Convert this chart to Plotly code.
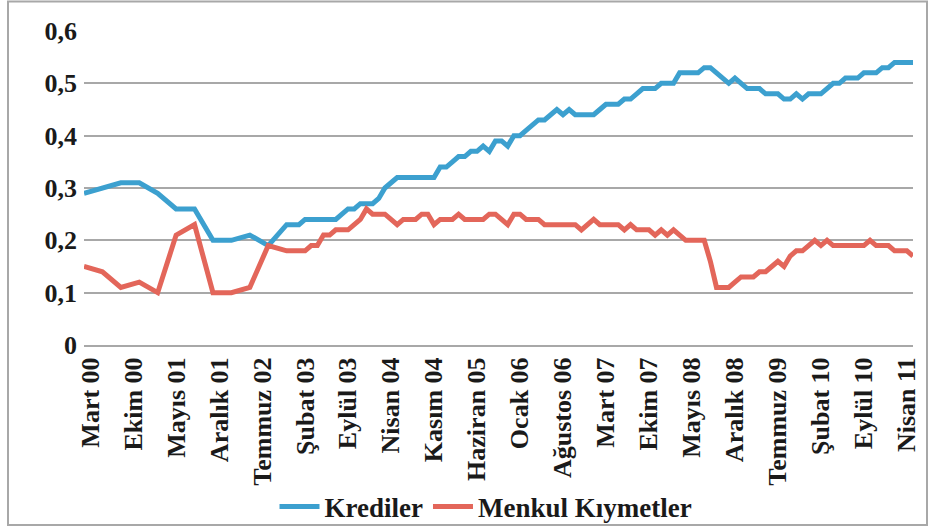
import plotly.graph_objects as go

# ---------------- data ----------------
month_names = ["Ocak", "Şubat", "Mart", "Nisan", "Mayıs", "Haziran",
               "Temmuz", "Ağustos", "Eylül", "Ekim", "Kasım", "Aralık"]
start_year, start_month, n_months = 2000, 2, 136  # Şubat 00 ... Mayıs 11
categories = []
for k in range(n_months):
    m = start_month - 1 + k
    categories.append(f"{month_names[m % 12]} {(start_year + m // 12) % 100:02d}")

tick_labels = ["Mart 00", "Ekim 00", "Mayıs 01", "Aralık 01", "Temmuz 02",
               "Şubat 03", "Eylül 03", "Nisan 04", "Kasım 04", "Haziran 05",
               "Ocak 06", "Ağustos 06", "Mart 07", "Ekim 07", "Mayıs 08",
               "Aralık 08", "Temmuz 09", "Şubat 10", "Eylül 10", "Nisan 11"]

krediler = [
    0.29, None, None, 0.30, None, None, 0.31, None, None, 0.31,
    None, None, 0.29, None, None, 0.26, None, None, 0.26, None,
    None, 0.20, None, None, 0.20, None, None, 0.21, None, None,
    0.19, None, None, 0.23, 0.23, 0.23, 0.24, 0.24, 0.24, 0.24,
    0.24, 0.24, 0.25, 0.26, 0.26, 0.27, 0.27, 0.27, 0.28, 0.30,
    0.31, 0.32, 0.32, 0.32, 0.32, 0.32, 0.32, 0.32, 0.34, 0.34,
    0.35, 0.36, 0.36, 0.37, 0.37, 0.38, 0.37, 0.39, 0.39, 0.38,
    0.40, 0.40, 0.41, 0.42, 0.43, 0.43, 0.44, 0.45, 0.44, 0.45,
    0.44, 0.44, 0.44, 0.44, 0.45, 0.46, 0.46, 0.46, 0.47, 0.47,
    0.48, 0.49, 0.49, 0.49, 0.50, 0.50, 0.50, 0.52, 0.52, 0.52,
    0.52, 0.53, 0.53, 0.52, 0.51, 0.50, 0.51, 0.50, 0.49, 0.49,
    0.49, 0.48, 0.48, 0.48, 0.47, 0.47, 0.48, 0.47, 0.48, 0.48,
    0.48, 0.49, 0.50, 0.50, 0.51, 0.51, 0.51, 0.52, 0.52, 0.52,
    0.53, 0.53, 0.54, 0.54, 0.54, 0.54]

menkul_kiymetler = [
    0.15, None, None, 0.14, None, None, 0.11, None, None, 0.12,
    None, None, 0.10, None, None, 0.21, None, None, 0.23, None,
    None, 0.10, None, None, 0.10, None, None, 0.11, None, None,
    0.19, None, None, 0.18, 0.18, 0.18, 0.18, 0.19, 0.19, 0.21,
    0.21, 0.22, 0.22, 0.22, 0.23, 0.24, 0.26, 0.25, 0.25, 0.25,
    0.24, 0.23, 0.24, 0.24, 0.24, 0.25, 0.25, 0.23, 0.24, 0.24,
    0.24, 0.25, 0.24, 0.24, 0.24, 0.24, 0.25, 0.25, 0.24, 0.23,
    0.25, 0.25, 0.24, 0.24, 0.24, 0.23, 0.23, 0.23, 0.23, 0.23,
    0.23, 0.22, 0.23, 0.24, 0.23, 0.23, 0.23, 0.23, 0.22, 0.23,
    0.22, 0.22, 0.22, 0.21, 0.22, 0.21, 0.22, 0.21, 0.20, 0.20,
    0.20, 0.20, 0.16, 0.11, 0.11, 0.11, 0.12, 0.13, 0.13, 0.13,
    0.14, 0.14, 0.15, 0.16, 0.15, 0.17, 0.18, 0.18, 0.19, 0.20,
    0.19, 0.20, 0.19, 0.19, 0.19, 0.19, 0.19, 0.19, 0.20, 0.19,
    0.19, 0.19, 0.18, 0.18, 0.18, 0.17]

y_tick_values = [0, 0.1, 0.2, 0.3, 0.4, 0.5, 0.6]
y_tick_labels = ["0", "0,1", "0,2", "0,3", "0,4", "0,5", "0,6"]

# ---------------- figure ----------------
W, H = 933, 529
L, R, T, B = 84, 20, 31, 184
pw, ph = W - L - R, H - T - B

FONT = "Liberation Serif"
BLUE = "#3ca0cf"
RED = "#e3665a"
GRID = "#a8a8a8"
TXT = "#1a1a1a"

fig = go.Figure()
fig.add_trace(go.Scatter(x=categories, y=krediler, name="Krediler",
                         mode="lines", connectgaps=True,
                         line=dict(color=BLUE, width=5)))
fig.add_trace(go.Scatter(x=categories, y=menkul_kiymetler, name="Menkul Kıymetler",
                         mode="lines", connectgaps=True,
                         line=dict(color=RED, width=5)))

def px_x(p):
    return (p - L) / pw

def px_y(p):
    return (H - B - p) / ph

fig.update_layout(
    width=W, height=H,
    margin=dict(l=L, r=R, t=T, b=B, autoexpand=False),
    paper_bgcolor="white", plot_bgcolor="white",
    font=dict(family=FONT, color=TXT),
    showlegend=True,
    legend=dict(orientation="h", x=px_x(486), xanchor="center",
                y=px_y(507), yanchor="middle",
                font=dict(family=FONT, size=27, weight="bold", color=TXT),
                bgcolor="rgba(0,0,0,0)", itemwidth=40, tracegroupgap=0),
    xaxis=dict(type="category", categoryorder="array", categoryarray=categories,
               range=[0, n_months - 1], tickmode="array",
               tickvals=tick_labels, ticktext=tick_labels, tickangle=-90,
               tickfont=dict(family=FONT, size=26, weight="bold", color=TXT),
               showgrid=False, showline=True, linecolor=GRID, linewidth=2,
               ticks="", ticklabelstandoff=0, automargin=False, fixedrange=True),
    yaxis=dict(range=[0, 0.6], tickmode="array", tickvals=y_tick_values,
               ticktext=y_tick_labels,
               tickfont=dict(family=FONT, size=26, weight="bold", color=TXT),
               showgrid=True, gridcolor=GRID, gridwidth=1.5,
               zeroline=False, showline=False, ticks="",
               ticklabelstandoff=6, automargin=False, fixedrange=True),
    shapes=[dict(type="rect", xref="paper", yref="paper",
                 x0=px_x(8), x1=px_x(927), y0=px_y(525), y1=px_y(1.5),
                 line=dict(color="#a8a8a8", width=2), fillcolor="rgba(0,0,0,0)",
                 layer="below")],
)

fig.write_html("out.html", config={"displayModeBar": False},
               post_script="document.body.style.margin='0';"
                           "document.body.style.overflow='hidden';")
